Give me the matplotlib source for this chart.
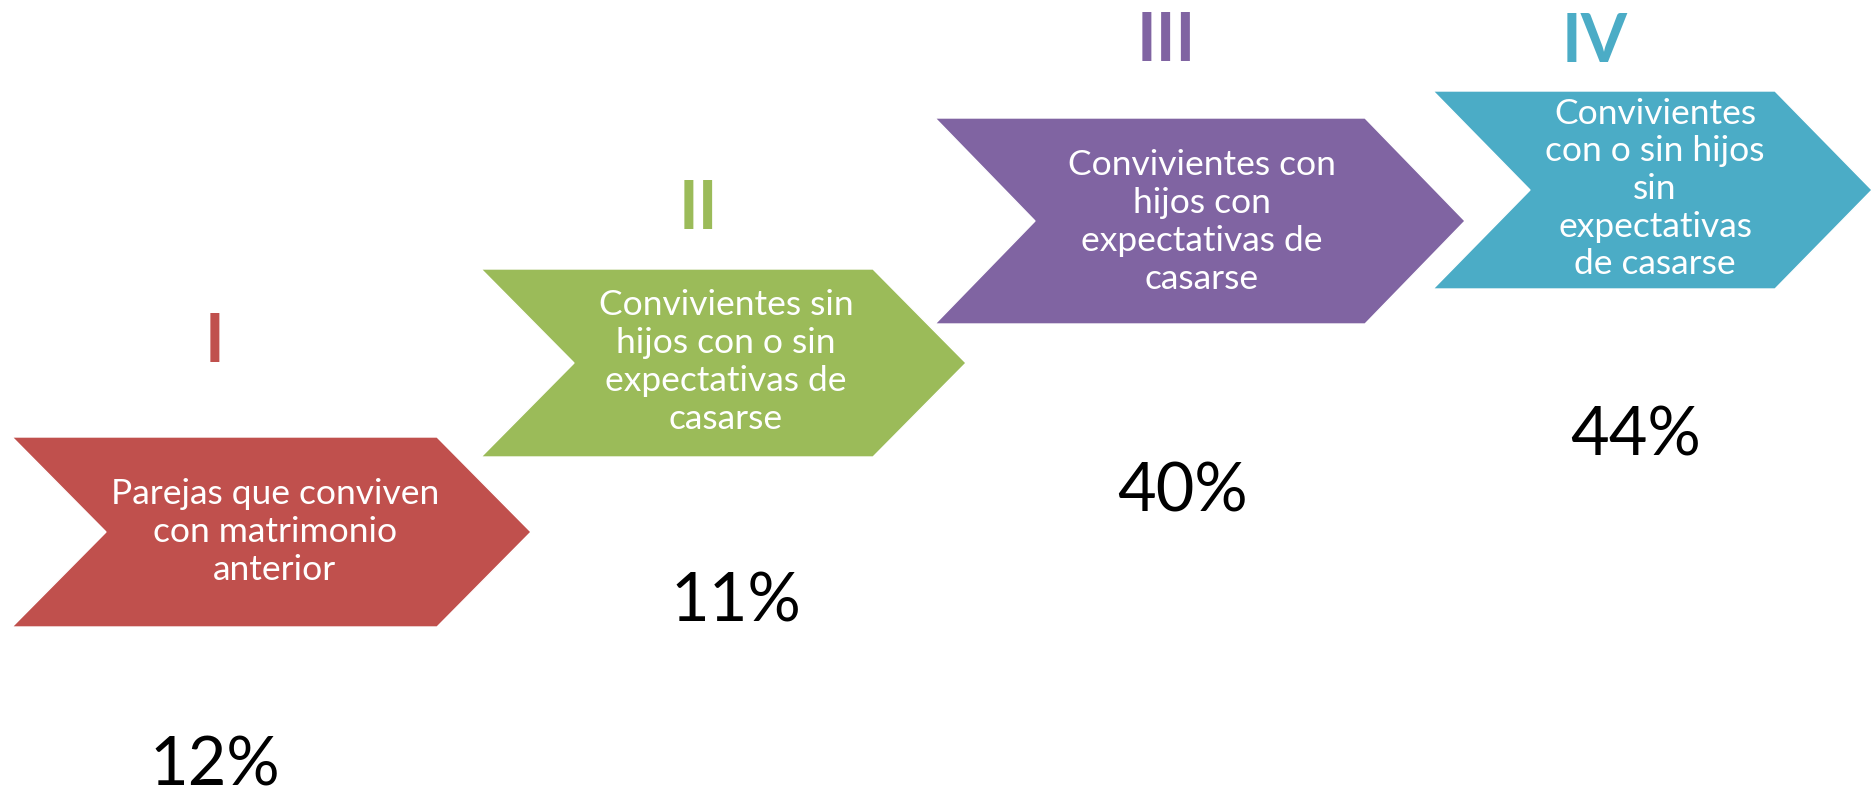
import matplotlib.pyplot as plt
from matplotlib.patches import Polygon

# Data
numerals = ["I", "II", "III", "IV"]
labels = [
    "Parejas que conviven\ncon matrimonio\nanterior",
    "Convivientes sin\nhijos con o sin\nexpectativas de\ncasarse",
    "Convivientes con\nhijos con\nexpectativas de\ncasarse",
    "Convivientes\ncon o sin hijos\nsin\nexpectativas\nde casarse",
]
percents = ["12%", "11%", "40%", "44%"]
colors = ["#C0504D", "#9BBB59", "#8064A2", "#4BACC6"]

# Layout (pixel coordinates, y grows downward)
box_left = [12, 481, 935, 1433]
box_right = [531, 966, 1465, 1872]
box_top = [437, 269, 118, 91]
box_bottom = [627, 457, 324, 289]
point_depth = [94, 93, 100, 97]
label_xy = [(275, 532), (726, 362), (1202, 222), (1655, 189)]
numeral_xy = [(215, 343), (698, 210), (1166, 42), (1595, 43)]
percent_xy = [(215, 766), (736, 603), (1182, 492), (1636, 437)]

W, H = 1872, 791
fig = plt.figure(figsize=(W / 100, H / 100), dpi=100)
ax = fig.add_axes([0, 0, 1, 1])
ax.set_xlim(0, W)
ax.set_ylim(H, 0)
ax.axis("off")

FONT = "Lato"


def chevron(x0, x1, y0, y1, d):
    ym = (y0 + y1) / 2
    return [(x0, y0), (x1 - d, y0), (x1, ym), (x1 - d, y1), (x0, y1), (x0 + d, ym)]


for i in range(len(labels)):
    pts = chevron(box_left[i], box_right[i], box_top[i], box_bottom[i], point_depth[i])
    # thin white outline so the overlapping arrow corners separate like the original
    ax.add_patch(Polygon(pts, closed=True, facecolor=colors[i], edgecolor="white",
                         linewidth=1.0, zorder=2 + i))
    ax.text(*label_xy[i], labels[i], color="white", fontsize=25.5, family=FONT,
            ha="center", va="center", linespacing=1.22, zorder=10)
    ax.text(*numeral_xy[i], numerals[i], color=colors[i], fontsize=48, family=FONT,
            fontweight="bold", ha="center", va="center", zorder=10)
    ax.text(*percent_xy[i], percents[i], color="black", fontsize=48, family=FONT,
            ha="center", va="center", zorder=10)

fig.savefig("out.png", dpi=100, facecolor="white")
